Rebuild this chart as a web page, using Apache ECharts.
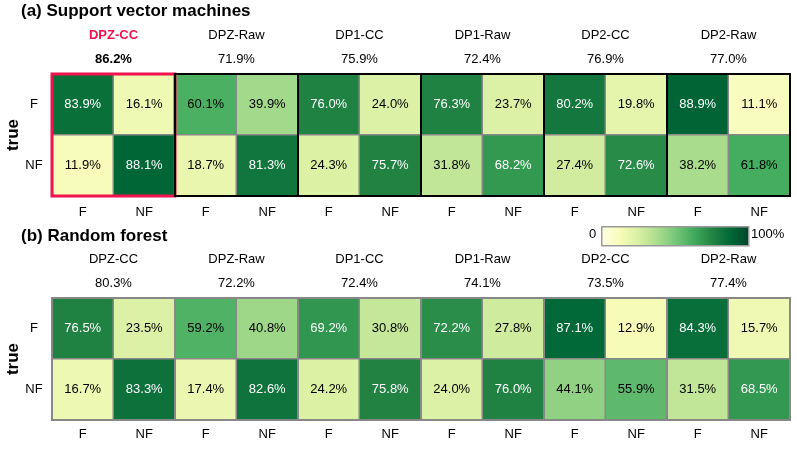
<!DOCTYPE html>
<html>
<head>
<meta charset="utf-8">
<script src="https://cdn.jsdelivr.net/npm/echarts@6/dist/echarts.min.js"></script>
<style>
  html, body { margin: 0; padding: 0; background: #fff; }
  #main { width: 797px; height: 450px; }
</style>
</head>
<body>
<div id="main"></div>
<script>
// confusion matrices, cell order: [trueF-predF, trueF-predNF, trueNF-predF, trueNF-predNF]
const models = ['DPZ-CC', 'DPZ-Raw', 'DP1-CC', 'DP1-Raw', 'DP2-CC', 'DP2-Raw'];
const predLabels = ['F', 'NF'];
const trueLabels = ['F', 'NF'];

const svmAcc = ['86.2%', '71.9%', '75.9%', '72.4%', '76.9%', '77.0%'];
const svmCells = [
    [83.9, 16.1, 11.9, 88.1],
    [60.1, 39.9, 18.7, 81.3],
    [76.0, 24.0, 24.3, 75.7],
    [76.3, 23.7, 31.8, 68.2],
    [80.2, 19.8, 27.4, 72.6],
    [88.9, 11.1, 38.2, 61.8]
];

const rfAcc = ['80.3%', '72.2%', '72.4%', '74.1%', '73.5%', '77.4%'];
const rfCells = [
    [76.5, 23.5, 16.7, 83.3],
    [59.2, 40.8, 17.4, 82.6],
    [69.2, 30.8, 24.2, 75.8],
    [72.2, 27.8, 24.0, 76.0],
    [87.1, 12.9, 44.1, 55.9],
    [84.3, 15.7, 31.5, 68.5]
];

const panelTitles = ['(a) Support vector machines', '(b) Random forest'];
const bestIndex = 0; // highlighted model in panel (a)

const YlGn = ['#ffffe5', '#f7fcb9', '#d9f0a3', '#addd8e', '#78c679', '#41ab5d', '#238443', '#006837', '#004529'];
const FONT = 'Liberation Sans, Arial, sans-serif';
const RED = '#f0134d';

const chart = echarts.init(document.getElementById('main'));

const panels = [
    {acc: svmAcc, cells: svmCells, top: 74, border: '#000', bw: 2, labelGap: 10},
    {acc: rfAcc, cells: rfCells, top: 298, border: '#888', bw: 2, labelGap: 8}
];
const left0 = 52, blockW = 123, blockH = 122;

let grid = [], xAxis = [], yAxis = [], series = [];

panels.forEach((p, pi) => {
    models.forEach((m, k) => {
        const gi = pi * 6 + k;
        const hl = (pi === 0 && k === bestIndex);
        grid.push({
            left: left0 + k * blockW, top: p.top, width: blockW, height: blockH,
            show: true, z: 10,
            backgroundColor: 'transparent',
            borderColor: hl ? RED : p.border,
            borderWidth: hl ? 3 : p.bw
        });
        // bottom axis: predicted label
        xAxis.push({
            type: 'category', gridIndex: gi, data: predLabels, position: 'bottom',
            axisLine: {show: false}, axisTick: {show: false}, splitLine: {show: false},
            axisLabel: {color: '#000', fontSize: 13, fontFamily: FONT, margin: p.labelGap}
        });
        // top axis: model name + accuracy
        const nm = hl ? '{hl|' + m + '}\n{hb|' + p.acc[k] + '}' : '{n|' + m + '}\n{n|' + p.acc[k] + '}';
        xAxis.push({
            type: 'category', gridIndex: gi, data: predLabels, position: 'top',
            axisLine: {show: false}, axisTick: {show: false}, axisLabel: {show: false},
            name: nm, nameLocation: 'middle', nameGap: 3,
            nameTextStyle: {
                fontFamily: FONT,
                rich: {
                    n: {fontSize: 13, color: '#000', lineHeight: 24, fontFamily: FONT},
                    hl: {fontSize: 13, color: RED, fontWeight: 'bold', lineHeight: 24, fontFamily: FONT},
                    hb: {fontSize: 13, color: '#000', fontWeight: 'bold', lineHeight: 24, fontFamily: FONT}
                }
            }
        });
        yAxis.push({
            type: 'category', gridIndex: gi, data: trueLabels, inverse: true,
            axisLine: {show: false}, axisTick: {show: false}, splitLine: {show: false},
            axisLabel: {show: k === 0, color: '#000', fontSize: 13, fontFamily: FONT, margin: 18, align: 'center'},
            name: k === 0 ? 'true' : '', nameLocation: 'middle', nameRotate: 90, nameGap: 28,
            nameTextStyle: {fontSize: 17, fontWeight: 'bold', color: '#000', fontFamily: FONT}
        });
        const c = p.cells[k];
        const data = [];
        for (let r = 0; r < 2; r++) {
            for (let col = 0; col < 2; col++) {
                const v = c[r * 2 + col];
                data.push({value: [col, r, v], label: {color: v > 65 ? '#fff' : '#000'}});
            }
        }
        series.push({
            type: 'heatmap', xAxisIndex: gi * 2, yAxisIndex: gi, data: data,
            itemStyle: {borderColor: '#888', borderWidth: 1.5},
            label: {
                show: true, fontSize: 13, fontFamily: FONT,
                formatter: d => d.value[2].toFixed(1) + '%'
            },
            emphasis: {disabled: true}
        });
    });
});

chart.setOption({
    animation: false,
    backgroundColor: '#fff',
    title: [
        {text: panelTitles[0], left: 21, top: 3, padding: 0,
         textStyle: {fontSize: 17, fontWeight: 'bold', color: '#000', fontFamily: FONT}},
        {text: panelTitles[1], left: 21, top: 228, padding: 0,
         textStyle: {fontSize: 17, fontWeight: 'bold', color: '#000', fontFamily: FONT}}
    ],
    visualMap: {
        show: false, type: 'continuous', min: 0, max: 100, dimension: 2,
        inRange: {color: YlGn}
    },
    grid: grid,
    xAxis: xAxis,
    yAxis: yAxis,
    series: series,
    graphic: [
        {
            type: 'rect', left: 601, top: 226, silent: true,
            shape: {width: 147, height: 19},
            style: {
                fill: new echarts.graphic.LinearGradient(0, 0, 1, 0,
                    YlGn.map((c, i) => ({offset: i / (YlGn.length - 1), color: c}))),
                stroke: '#999', lineWidth: 1.5
            }
        },
        {type: 'text', left: 589, top: 228, style: {text: '0', fontSize: 13, fontFamily: FONT, fill: '#000'}},
        {type: 'text', left: 751, top: 228, style: {text: '100%', fontSize: 13, fontFamily: FONT, fill: '#000'}}
    ]
});
</script>
</body>
</html>
